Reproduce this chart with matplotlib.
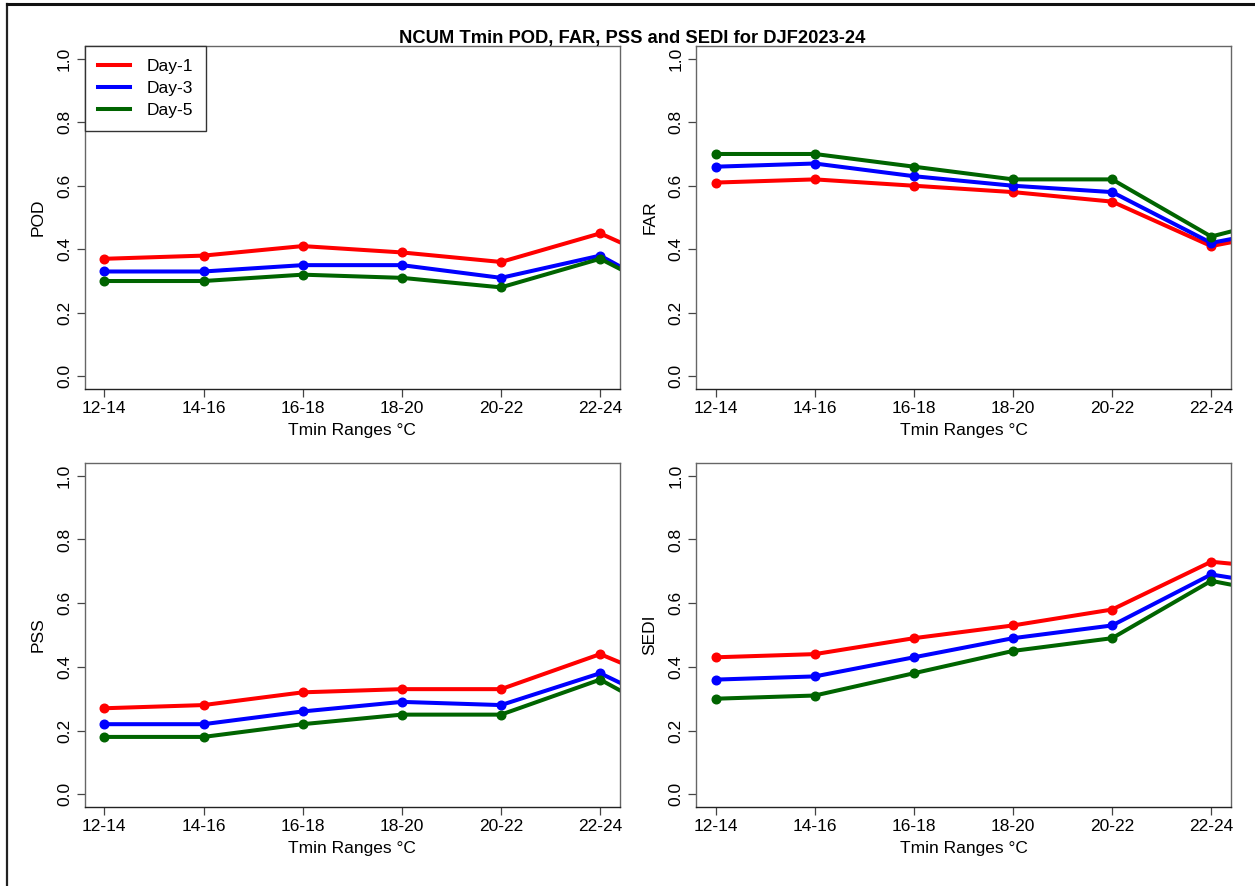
import numpy as np
import matplotlib
matplotlib.use("Agg")
import matplotlib.pyplot as plt
from matplotlib.lines import Line2D

plt.rcParams['font.family'] = ['Liberation Sans', 'DejaVu Sans']

# Tmin range categories (last one falls outside the x-range and is clipped)
categories = ['12-14', '14-16', '16-18', '18-20', '20-22', '22-24', '24-26']
days = ['Day-1', 'Day-3', 'Day-5']
colors = ['#ff0000', '#0000ff', '#006400']

pod_day1 = [0.37, 0.38, 0.41, 0.39, 0.36, 0.45, 0.31]
pod_day3 = [0.33, 0.33, 0.35, 0.35, 0.31, 0.38, 0.21]
pod_day5 = [0.30, 0.30, 0.32, 0.31, 0.28, 0.37, 0.21]

far_day1 = [0.61, 0.62, 0.60, 0.58, 0.55, 0.41, 0.47]
far_day3 = [0.66, 0.67, 0.63, 0.60, 0.58, 0.42, 0.48]
far_day5 = [0.70, 0.70, 0.66, 0.62, 0.62, 0.44, 0.52]

pss_day1 = [0.27, 0.28, 0.32, 0.33, 0.33, 0.44, 0.31]
pss_day3 = [0.22, 0.22, 0.26, 0.29, 0.28, 0.38, 0.23]
pss_day5 = [0.18, 0.18, 0.22, 0.25, 0.25, 0.36, 0.19]

sedi_day1 = [0.43, 0.44, 0.49, 0.53, 0.58, 0.73, 0.70]
sedi_day3 = [0.36, 0.37, 0.43, 0.49, 0.53, 0.69, 0.64]
sedi_day5 = [0.30, 0.31, 0.38, 0.45, 0.49, 0.67, 0.61]

panels = [
    ('POD', [pod_day1, pod_day3, pod_day5]),
    ('FAR', [far_day1, far_day3, far_day5]),
    ('PSS', [pss_day1, pss_day3, pss_day5]),
    ('SEDI', [sedi_day1, sedi_day3, sedi_day5]),
]

W, H = 1255, 886
fig = plt.figure(figsize=(W / 100, H / 100), dpi=100)

# axes boxes in pixels: left, top, right, bottom
boxes = [(84.5, 46, 620, 389), (696, 46, 1231, 389),
         (84.5, 463, 620, 807), (696, 463, 1231, 807)]

x = np.arange(1, len(categories) + 1)
fs = 12.5

for (name, series), (l, t, r, b) in zip(panels, boxes):
    ax = fig.add_axes([l / W, 1 - b / H, (r - l) / W, (b - t) / H])
    for vals, c, lab in zip(series, colors, days):
        ax.plot(x, vals, color=c, lw=2.9, marker='o', ms=6.2, label=lab)
    ax.set_xlim(0.8, 6.2)
    ax.set_ylim(-0.04, 1.04)
    ax.set_xticks(x[:6])
    ax.set_xticklabels(categories[:6], fontsize=fs)
    ax.set_yticks(np.arange(0, 1.01, 0.2))
    ax.set_yticklabels(['%.1f' % v for v in np.arange(0, 1.01, 0.2)],
                       fontsize=fs, rotation=90, va='center')
    ax.tick_params(length=5.5, width=0.9, color='#444444', pad=3)
    ax.tick_params(axis='y', pad=3.5)
    for s in ax.spines.values():
        s.set_color('#666666')
        s.set_linewidth(1.0)
    ax.spines['bottom'].set_color('#222222')
    ax.set_xlabel('Tmin Ranges \u00b0C', fontsize=fs, labelpad=5)
    ax.set_ylabel(name, fontsize=fs, labelpad=8)
    if name == 'POD':
        leg = ax.legend(loc='upper left', borderaxespad=0, fontsize=fs,
                        handlelength=1.85, handletextpad=0.95, labelspacing=0.4,
                        borderpad=0.75, fancybox=False, framealpha=1)
        leg.get_frame().set_edgecolor('#333333')
        leg.get_frame().set_linewidth(1.0)
        for h in leg.get_lines():
            h.set_marker('')

fig.text(0.504, 1 - 38 / H, 'NCUM Tmin POD, FAR, PSS and SEDI for DJF2023-24',
         ha='center', va='center', fontsize=13.2, fontweight='bold')

# outer frame lines from the original screenshot
fig.add_artist(Line2D([7 / W, 7 / W], [0, 1 - 4 / H], color='#222222', lw=1.6))
fig.add_artist(Line2D([7 / W, 1], [1 - 4 / H, 1 - 4 / H], color='#111111', lw=2.2))

fig.savefig('out.png', dpi=100)
